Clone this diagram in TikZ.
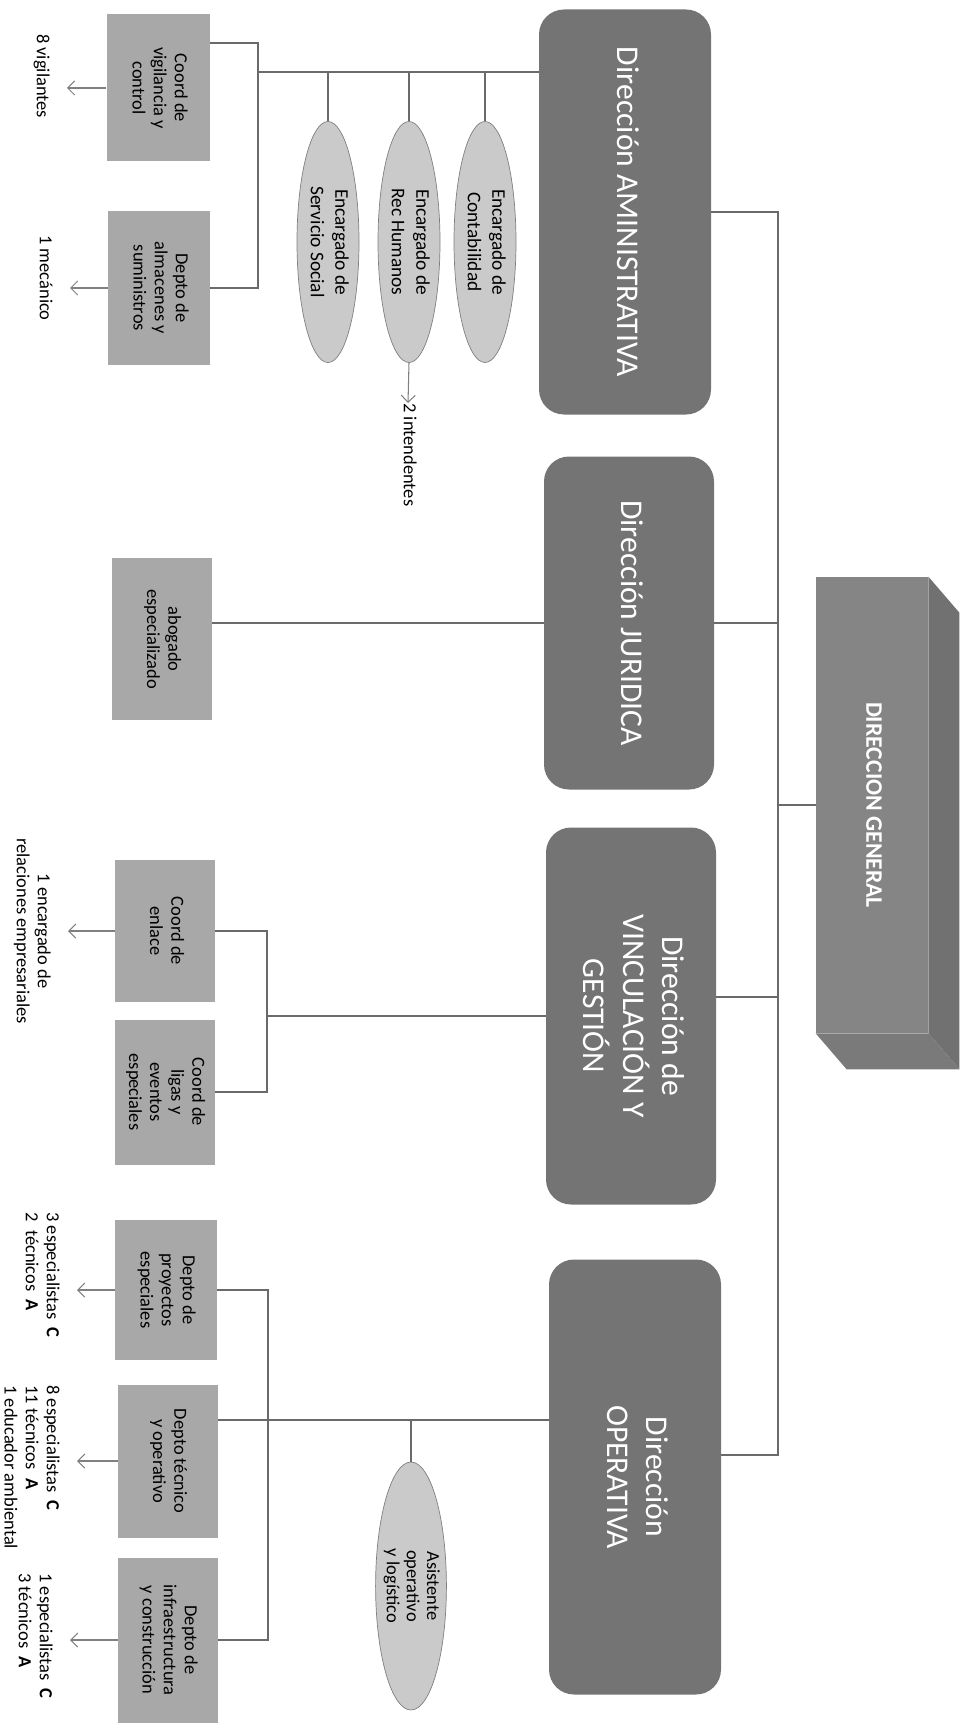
\documentclass[tikz,border=0pt]{standalone}
\usepackage{fontspec}
\setmainfont{Carlito}
\usetikzlibrary{shapes.geometric,arrows.meta}
\definecolor{grisdir}{HTML}{747474}
\definecolor{grisdep}{HTML}{A8A8A8}
\definecolor{grisenc}{HTML}{CACACA}
\definecolor{grisgen}{HTML}{858585}
\definecolor{grislinea}{HTML}{6A6A6A}
\newcommand{\vt}[1]{\rotatebox{-90}{\begin{tabular}{@{}c@{}}#1\end{tabular}}}
\newcommand{\vtl}[1]{\rotatebox{-90}{\begin{tabular}{@{}l@{}}#1\end{tabular}}}

\begin{document}
\begin{tikzpicture}[x=0.02cm, y=-0.02cm,
  tam/.style 2 args={minimum width=#1*0.02cm, minimum height=#2*0.02cm},
  director/.style={fill=grisdir, rounded corners=0.5cm, text=white, inner sep=0pt,
    font=\fontsize{18}{22.5}\selectfont},
  depto/.style={fill=grisdep, inner sep=0pt, font=\fontsize{10.5}{12}\selectfont},
  encargado/.style={ellipse, fill=grisenc, draw=gray, inner sep=-3pt,
    font=\fontsize{11}{14}\selectfont},
  nota/.style={inner xsep=0.3cm, inner ysep=0pt, font=\fontsize{10.5}{12}\selectfont},
  linea/.style={draw=grislinea, line width=0.8pt},
  flecha/.style={draw=gray, line width=0.6pt, -{Straight Barb[length=4pt,width=8pt]}}]
  \useasboundingbox (0,0) rectangle (972,1733);

  % direccion general
  \node[fill=grisgen, tam={112}{456}, inner sep=0pt, text=white,
    font=\bfseries\fontsize{13.5}{16}\selectfont] (gen) at (872,805) {\vt{DIRECCION GENERAL}};
  \fill[grisgen!85!black] (gen.north east) -- ++(31,36) -- ([shift={(31,36)}]gen.south east)
    -- (gen.south east) -- cycle;
  \fill[grisgen!92!black] (gen.south west) -- (gen.south east) -- ([shift={(31,36)}]gen.south east)
    -- ([shift={(31,36)}]gen.south west) -- cycle;

  % direcciones
  \node[director, tam={172}{405}] (adm) at (625,212) {\vt{Dirección AMINISTRATIVA}};
  \node[director, tam={170}{333}] (jur) at (629,623) {\vt{Dirección JURIDICA}};
  \node[director, tam={170}{377}] (vinc) at (631,1016) {\vt{Dirección de\\VINCULACIÓN Y\\GESTIÓN}};
  \node[director, tam={172}{435}] (oper) at (635,1477) {\vt{Dirección\\OPERATIVA}};

  % encargados
  \node[encargado, tam={62}{241}] (cont) at (485,242) {\vt{Encargado de\\Contabilidad}};
  \node[encargado, tam={62}{241}] (rech) at (409,242) {\vt{Encargado de\\Rec Humanos}};
  \node[encargado, tam={62}{241}] (serv) at (328,242) {\vt{Encargado de\\Servicio Social}};
  \node[encargado, tam={70}{248}, font=\fontsize{10.5}{11.5}\selectfont] (asis) at (411,1586)
    {\vt{Asistente\\operativo\\y logístico}};

  % departamentos
  \node[depto, tam={103}{147}] (vig) at (158,88) {\vt{Coord de\\vigilancia y\\control}};
  \node[depto, tam={102}{153}] (alm) at (159,288) {\vt{Depto de\\almacenes y\\suministros}};
  \node[depto, tam={100}{162}] (abog) at (162,639) {\vt{abogado\\especializado}};
  \node[depto, tam={100}{142}] (enl) at (165,931) {\vt{Coord de\\enlace}};
  \node[depto, tam={100}{145}] (lig) at (165,1092) {\vt{Coord de\\ligas y\\eventos\\especiales}};
  \node[depto, tam={102}{140}] (proy) at (166,1290) {\vt{Depto de\\proyectos\\especiales}};
  \node[depto, tam={100}{153}] (tecn) at (168,1461) {\vt{Depto técnico\\y operativo}};
  \node[depto, tam={100}{165}] (infra) at (168,1640) {\vt{Depto de\\infraestructura\\y construcción}};

  % personal
  \node[nota, anchor=east] (vigil) at (67,76) {\vt{8 vigilantes}};
  \node[nota, anchor=east] (mecan) at (70,278) {\vt{1 mecánico}};
  \node[nota, anchor=north, inner xsep=0pt] (intend) at (408,403) {\vt{2 intendentes}};
  \node[nota, anchor=east] (relac) at (68,931) {\vt{1 encargado de\\relaciones empresariales}};
  \node[nota, anchor=north east] (notaP) at (77,1212)
    {\vtl{3 especialistas\ \ \textbf{C}\\2\ \ técnicos\ \ \textbf{A}}};
  \node[nota, anchor=north east] (notaT) at (77,1385)
    {\vtl{8 especialistas\ \ \textbf{C}\\11 técnicos\ \ \textbf{A}\\1 educador ambiental}};
  \node[nota, anchor=north east] (notaI) at (70,1573)
    {\vtl{1 especialistas\ \ \textbf{C}\\3 técnicos\ \ \textbf{A}}};

  % tronco
  \coordinate (tronco) at (778,805);
  \draw[linea] (gen.west) -- (tronco);
  \draw[linea] (adm.east) -| (tronco) |- ([yshift=0.44cm]oper.east);
  \draw[linea] (jur.east) -- (jur.east -| tronco);
  \draw[linea] ([yshift=0.38cm]vinc.east) -- ([yshift=0.38cm]vinc.east -| tronco);

  % rama administrativa
  \coordinate (ramaA) at (258,72);
  \draw[linea] (adm.west |- ramaA) -- (ramaA);
  \draw[linea] ([yshift=0.9cm]vig.east) -| (ramaA) |- (alm.east);
  \foreach \e in {cont,rech,serv}
    \draw[linea] (\e.north |- ramaA) -- (\e.north);

  % rama juridica
  \draw[linea] (jur.west) -- (jur.west -| abog.east);

  % rama vinculacion
  \coordinate (ramaV) at (267,1016);
  \draw[linea] (vinc.west) -- (ramaV);
  \draw[linea] (enl.east) -| (ramaV) |- (lig.east);

  % rama operativa
  \coordinate (ramaO) at (268,1420);
  \draw[linea] (oper.west |- ramaO) -- (ramaO -| tecn.east);
  \draw[linea] (proy.east) -| (ramaO) |- (infra.east);
  \draw[linea] (asis.north |- ramaO) -- (asis.north);

  % flechas al personal
  \draw[flecha] (vig.west) -- (vig.west -| vigil.east);
  \draw[flecha] (alm.west) -- (alm.west -| mecan.east);
  \draw[flecha] (rech.south) -- (intend.north);
  \draw[flecha] (enl.west) -- (enl.west -| relac.east);
  \draw[flecha] (proy.west) -- (proy.west -| notaP.east);
  \draw[flecha] (tecn.west) -- (tecn.west -| notaT.east);
  \draw[flecha] (infra.west) -- (infra.west -| notaI.east);
\end{tikzpicture}
\end{document}
